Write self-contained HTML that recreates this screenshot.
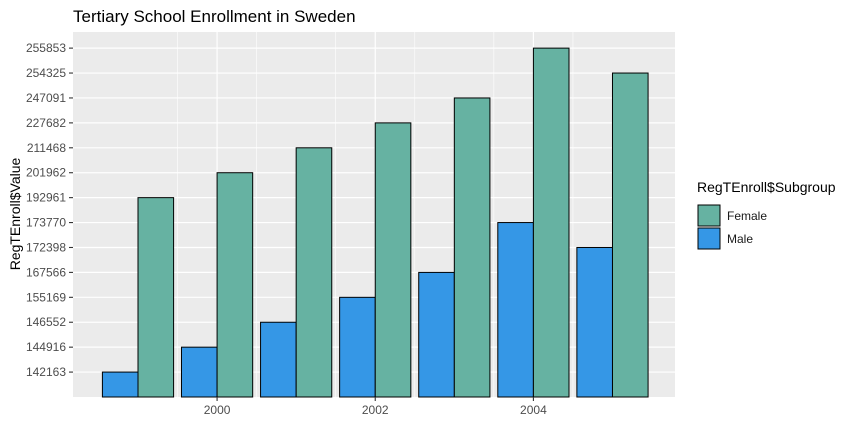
<!DOCTYPE html>
<html><head><meta charset="utf-8"><style>
body{margin:0;background:#fff;font-family:"Liberation Sans",Arial,sans-serif}
</style></head><body>
<svg id="c" width="856" height="442" xmlns="http://www.w3.org/2000/svg" font-family="Liberation Sans, Arial, sans-serif">
<text x="73" y="22" font-size="17" fill="#000">Tertiary School Enrollment in Sweden</text>
<rect x="73" y="32" width="602" height="365" fill="#EBEBEB"/>
<g id="grid"></g><g id="bars"></g><g id="axes"></g>
<text transform="translate(20,214) rotate(-90)" text-anchor="middle" font-size="14" fill="#000">RegTEnroll$Value</text>
<g>
<text x="697" y="192" font-size="14" fill="#000">RegTEnroll$Subgroup</text>
<rect x="698" y="205" width="22" height="21" fill="#66B2A2" stroke="#000"/>
<text x="727" y="220" font-size="12" fill="#1a1a1a">Female</text>
<rect x="698" y="228" width="22" height="21" fill="#3597E6" stroke="#000"/>
<text x="727" y="243" font-size="12" fill="#1a1a1a">Male</text>
</g>
</svg>
<script>
const years=[1999,2000,2001,2002,2003,2004,2005];
const maleValues=[142163,144916,146552,155169,167566,173770,172398];
const femaleValues=[192961,201962,211468,227682,247091,255853,254325];
const xTicks=[2000,2002,2004];
const NS="http://www.w3.org/2000/svg";
const levels=[...new Set(maleValues.concat(femaleValues))].sort((a,b)=>a-b);
function xs(yr){return 138+(yr-1999)*79.08;}
function ys(v){const p=levels.indexOf(v)+1;return 397-p*24.92;}
function ypos(p){return 397-p*24.92;}
function mk(t,a,parent){const e=document.createElementNS(NS,t);for(const k in a)e.setAttribute(k,a[k]);document.getElementById(parent).appendChild(e);return e;}
// grid
for(let i=0;i<years.length-1;i++){const x=(xs(years[i])+xs(years[i+1]))/2;
 const l=mk('line',{x1:x,x2:x,y1:32,y2:397,stroke:'#fff','stroke-width':0.6},'grid');
 
 }
xTicks.forEach(t=>{const x=xs(t);
 const l=mk('line',{x1:x,x2:x,y1:32,y2:397,stroke:'#fff','stroke-width':1.2},'grid');
 
 
 const tk=mk('line',{x1:x,x2:x,y1:397,y2:401,stroke:'#333','stroke-width':1.1},'axes');
 
 
 const tx=mk('text',{x:x,y:414,'text-anchor':'middle','font-size':12,fill:'#4d4d4d'},'axes');tx.textContent=t;
 
 });
levels.forEach((v,i)=>{const y=ypos(i+1);
 const l=mk('line',{x1:73,x2:675,y1:y,y2:y,stroke:'#fff','stroke-width':1.2},'grid');
 
 
 const tk=mk('line',{x1:69,x2:73,y1:y,y2:y,stroke:'#333','stroke-width':1.1},'axes');
 
 
 const tx=mk('text',{x:66,y:y+4,'text-anchor':'end','font-size':12,fill:'#4d4d4d'},'axes');tx.textContent=v;
 
 });
years.forEach((yr,i)=>{const c=xs(yr);
 const m=ys(maleValues[i]),f=ys(femaleValues[i]);
 const bm=mk('rect',{x:c-35.6,y:m,width:35.6,height:397-m,fill:'#3597E6',stroke:'#000','stroke-width':1},'bars');
 
 
 const bf=mk('rect',{x:c,y:f,width:35.6,height:397-f,fill:'#66B2A2',stroke:'#000','stroke-width':1},'bars');
 
 });
</script>
</body></html>
